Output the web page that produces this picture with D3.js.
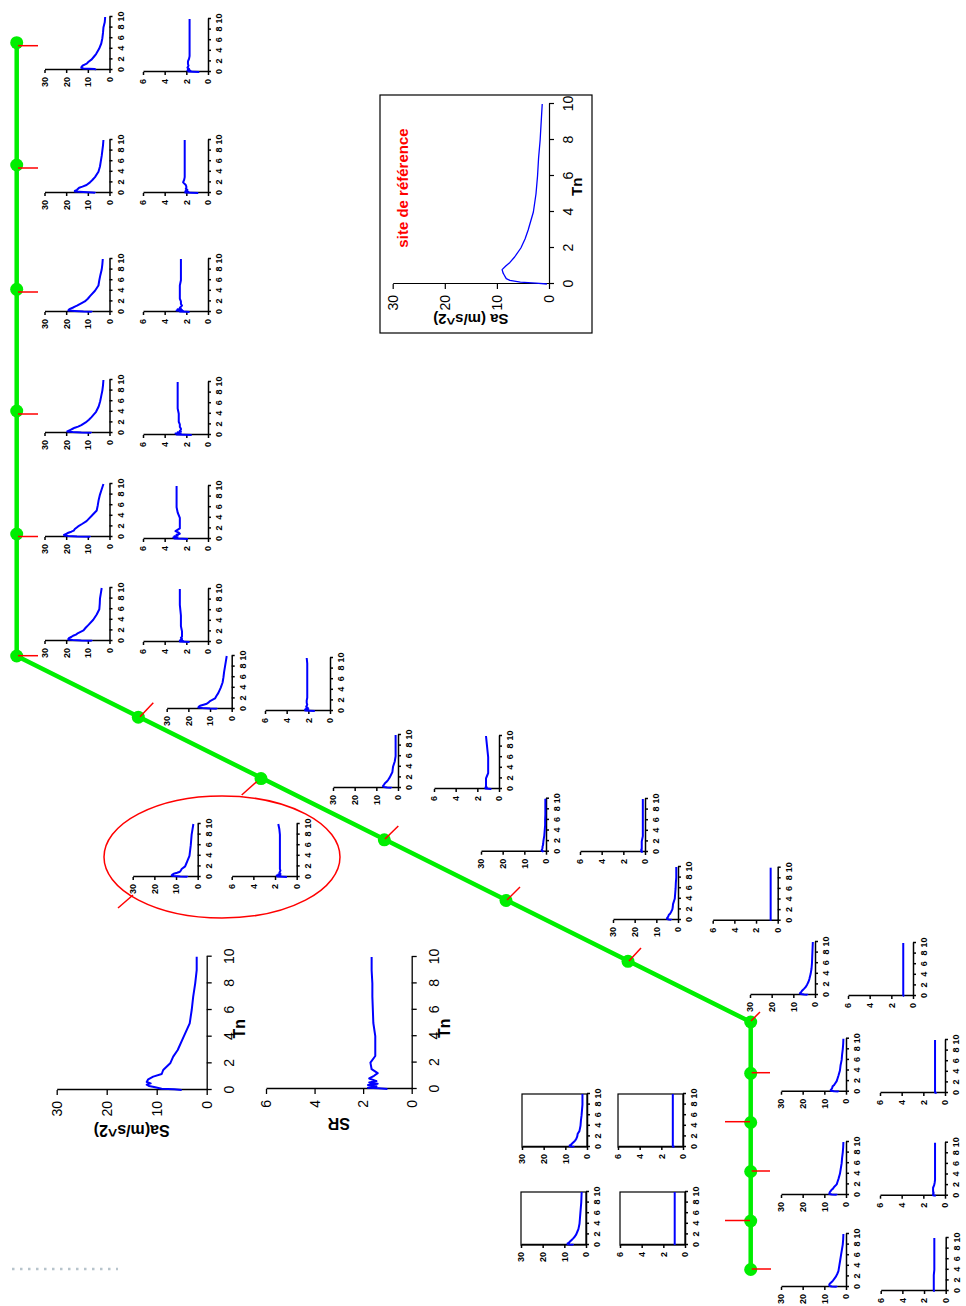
<!DOCTYPE html>
<html><head><meta charset="utf-8">
<script src="https://cdn.jsdelivr.net/npm/d3@7"></script>
<style>body{margin:0;background:#fff} svg{display:block}</style>
</head><body><div id="chart"></div>
<script>
// ---------------- DATA ----------------
const periods = [0,0.05,0.1,0.2,0.3,0.4,0.5,0.6,0.8,1,1.2,1.5,2,2.5,3,4,5,6,7,8,9,10];
const tnTicks = [0,2,4,6,8,10];
const saTicks = [0,10,20,30];
const srTicks = [0,2,4,6];

// reference site
const saRef = [0.4,2.5,5.5,7.5,8.2,8.4,8.6,8.8,9.0,8.3,7.5,6.6,5.4,4.6,4.0,3.0,2.5,2.2,2.0,1.7,1.5,1.3];
// enlarged site (big panels)
const saBig = [5.0,6.5,9.0,10.3,11.5,12.0,11.2,12.0,11.7,10.7,9.0,8.7,7.3,6.7,5.8,4.6,3.4,3.0,2.7,2.3,2.0,2.0];
const srBig = [1.0,1.37,1.8,1.45,1.8,1.4,1.75,1.45,1.75,1.55,1.4,1.65,1.7,1.5,1.5,1.5,1.58,1.6,1.62,1.62,1.65,1.65];

// top row sites
const saA1 = [6.7,6.7,6.5,6.8,12.0,13.0,13.0,12.9,12.5,11.5,10.5,9.8,8.2,7.2,6.2,4.8,3.8,3.3,3.0,2.8,2.2,2.0];
const srA1 = [0.8,1.4,1.8,1.6,1.9,1.7,1.85,1.75,1.9,1.85,1.8,1.85,1.85,1.75,1.7,1.7,1.7,1.7,1.7,1.7,1.7,1.7];
const saA2 = [6.7,6.7,8.0,12.0,16.0,16.0,15.5,15.0,14.5,14.0,12.5,10.6,9.0,7.8,6.7,5.1,4.4,4.0,3.6,3.3,3.0,2.8];
const srA2 = [0.9,1.6,2.1,1.8,2.1,1.9,2.05,1.9,2.05,2.0,2.0,2.05,2.3,2.2,2.15,2.15,2.15,2.15,2.15,2.15,2.15,2.15];
const saA3 = [8.2,8.2,12.0,16.0,19.0,18.8,18.5,18.3,17.0,16.0,15.0,13.7,11.4,10.0,9.0,6.7,5.1,4.7,4.2,3.6,3.3,3.1];
const srA3 = [1.7,2.0,2.6,2.3,2.9,2.4,2.8,2.5,2.6,2.5,2.4,2.5,2.5,2.6,2.6,2.6,2.6,2.5,2.5,2.5,2.5,2.5];
const saA4 = [8.5,8.5,13.0,17.0,19.5,19.0,18.5,18.0,17.0,16.0,14.5,13.0,11.0,9.5,8.3,6.2,5.0,4.3,3.8,3.3,3.0,2.8];
const srA4 = [1.5,2.2,2.9,2.5,3.0,2.6,2.8,2.5,2.6,2.5,2.5,2.6,2.6,2.7,2.7,2.7,2.8,2.8,2.8,2.8,2.8,2.8];
const saA5 = [9.0,9.0,15.0,19.0,20.7,21.0,20.5,20.0,19.0,17.6,16.5,16.0,14.5,12.5,10.6,8.2,5.9,5.4,5.0,4.4,3.6,2.8];
const srA5 = [1.85,2.4,3.1,2.8,3.2,2.9,3.1,2.8,2.9,2.6,2.7,3.0,2.6,2.6,2.6,2.6,2.8,2.9,2.9,2.9,2.9,2.9];
const saA6 = [8.2,8.2,13.0,17.0,19.0,19.0,18.8,18.5,17.5,16.8,15.5,14.5,12.0,11.0,9.8,7.5,5.9,4.7,4.5,4.4,4.0,3.6];
const srA6 = [1.7,2.2,2.6,2.3,2.6,2.4,2.5,2.4,2.5,2.4,2.4,2.4,2.4,2.45,2.5,2.5,2.5,2.55,2.6,2.6,2.6,2.6];
// diagonal sites
const saD1 = [6.9,6.9,10.0,13.5,15.4,15.2,15.0,14.6,13.0,11.5,10.8,10.0,7.7,7.0,6.2,5.1,4.2,3.8,3.5,3.1,2.7,2.3];
const srD1 = [1.4,1.9,2.3,2.0,2.3,2.0,2.2,2.05,2.2,2.15,2.1,2.15,2.15,2.1,2.1,2.1,2.1,2.1,2.1,2.1,2.1,2.15];
const saD2 = [3.1,3.1,5.0,6.5,6.9,6.9,6.7,6.5,6.2,5.8,5.2,4.6,3.8,3.2,2.6,2.3,1.5,1.1,1.1,1.1,1.1,1.1];
const srD2 = [0.7,1.0,1.25,1.1,1.25,1.15,1.2,1.2,1.2,1.2,1.2,1.2,1.2,1.1,1.0,1.0,1.0,1.0,1.05,1.1,1.15,1.2];
const saD3 = [1.2,1.2,1.6,2.0,2.0,1.9,1.8,1.7,1.6,1.6,1.4,1.3,1.2,1.0,0.8,0.6,0.4,0.4,0.3,0.3,0.3,0.3];
const srD3 = [0.2,0.3,0.35,0.3,0.35,0.3,0.35,0.3,0.3,0.3,0.3,0.3,0.3,0.25,0.2,0.2,0.2,0.2,0.2,0.2,0.2,0.2];
const saD4 = [4.8,4.8,8.0,11.0,12.0,11.8,11.5,11.1,9.5,8.2,7.8,7.4,5.8,5.3,4.8,3.8,3.5,3.2,3.0,2.8,2.4,2.0];
const srD4 = [0.9,1.3,1.8,1.5,1.85,1.5,1.7,1.5,1.6,1.55,1.5,1.55,1.55,1.55,1.55,1.55,1.55,1.55,1.55,1.55,1.6,1.7];
const saD5 = [3.1,3.1,4.2,5.0,5.1,5.0,4.8,4.6,4.4,4.2,3.6,3.2,2.6,2.4,2.3,1.5,1.3,1.1,1.0,0.8,0.8,0.8];
const srD5 = [0.65,0.65,0.65,0.65,0.65,0.65,0.65,0.65,0.65,0.65,0.65,0.65,0.65,0.65,0.65,0.65,0.65,0.65,0.65,0.65,0.65,0.65];
const saD6 = [3.5,3.5,5.0,6.5,7.0,6.8,6.5,6.3,6.0,5.5,5.0,4.3,3.6,3.0,2.6,2.0,1.6,1.4,1.3,1.2,1.1,1.0];
const srD6 = [0.8,0.85,0.9,0.9,0.9,0.9,0.9,0.9,0.9,0.9,0.9,0.9,0.9,0.9,0.9,0.9,0.9,0.9,0.9,0.9,0.9,0.9];
// bottom row sites
const saB1 = [3.5,3.5,5.5,7.0,7.1,6.9,6.7,6.5,6.3,6.2,5.6,5.1,4.3,3.9,3.5,2.8,2.5,2.0,1.8,1.5,1.3,1.2];
const srB1 = [0.77,0.85,0.92,0.92,0.92,0.92,0.92,0.92,0.92,0.92,0.92,0.92,0.92,0.92,0.92,0.92,0.92,0.92,0.92,0.92,0.92,0.92];
const saB2 = [4.3,4.3,6.5,7.7,7.7,7.6,7.5,7.4,7.0,6.6,6.0,5.5,4.3,3.9,3.5,2.8,2.4,2.0,1.8,1.5,1.3,1.2];
const srB2 = [0.85,1.0,1.1,1.1,1.1,1.05,1.1,1.05,1.1,1.1,1.1,1.1,1.0,0.95,0.92,0.92,0.92,0.92,0.92,0.92,0.92,0.92];
const saB3 = [4.3,4.3,6.5,7.5,7.7,7.7,7.7,7.5,7.0,6.5,6.0,5.5,4.6,4.0,3.5,3.1,2.7,2.3,1.9,1.5,1.3,1.2];
const srB3 = [1.0,1.1,1.1,1.1,1.1,1.1,1.1,1.1,1.1,1.1,1.1,1.1,1.1,1.1,1.1,1.05,1.05,1.05,1.05,1.05,1.05,1.05];
// boxed sites (lower left)
const saL1 = [6.2,6.2,7.0,8.0,8.0,7.5,7.2,7.0,6.5,6.0,5.5,5.0,4.5,4.3,3.5,3.0,2.8,2.5,2.3,2.1,2.1,2.1];
const srL1 = [0.8,0.85,0.94,0.94,0.94,0.94,0.94,0.94,0.94,0.94,0.94,0.94,0.94,0.94,0.94,0.94,0.94,0.94,0.94,0.94,0.94,0.94];
const saL2 = [6.0,6.0,7.5,8.5,8.5,8.0,7.7,7.5,7.0,6.5,6.0,5.3,4.5,4.0,3.5,3.0,2.8,2.6,2.4,2.2,2.1,2.0];
const srL2 = [0.95,0.95,0.95,0.95,0.95,0.95,0.95,0.95,0.95,0.95,0.95,0.95,0.95,0.95,0.95,0.95,0.95,0.95,0.95,0.95,0.95,0.95];

// ---------------- LAYOUT ----------------
const W = 966, H = 1306;
const FONT = '"Liberation Sans", Arial, Helvetica, sans-serif';
const GREEN = '#00ee00';

// screen positions of the Tn axis (x) and Tn=0 level (y) for each small panel pair
const smallPanels = [
  {sa: saA1, sr: srA1, a: [109.5, 70], b: [208, 72]},
  {sa: saA2, sr: srA2, a: [109.5, 193], b: [208, 193]},
  {sa: saA3, sr: srA3, a: [109.5, 312], b: [208, 312]},
  {sa: saA4, sr: srA4, a: [109.5, 433], b: [208, 435]},
  {sa: saA5, sr: srA5, a: [109.5, 537], b: [208, 539]},
  {sa: saA6, sr: srA6, a: [109.5, 641], b: [208, 642]},
  {sa: saD1, sr: srD1, a: [231.7, 709], b: [330, 711]},
  {sa: saD2, sr: srD2, a: [398, 788], b: [499, 789]},
  {sa: saD3, sr: srD3, a: [546, 851.7], b: [645, 852]},
  {sa: saD4, sr: srD4, a: [197.7, 877], b: [296.7, 877]},
  {sa: saD5, sr: srD5, a: [678, 920], b: [777.7, 920.7]},
  {sa: saD6, sr: srD6, a: [815, 995], b: [913, 996]},
  {sa: saB1, sr: srB1, a: [846, 1091.7], b: [945, 1093]},
  {sa: saB2, sr: srB2, a: [846, 1195], b: [945, 1195.7]},
  {sa: saB3, sr: srB3, a: [846, 1287], b: [945.7, 1291]},
  {sa: saL1, sr: srL1, a: [587, 1147], b: [683, 1147], box: true},
  {sa: saL2, sr: srL2, a: [586, 1245], b: [685, 1245], box: true}
];

const svg = d3.select('#chart').append('svg').attr('width', W).attr('height', H)
  .style('background', '#fff');

// ---- river path (screen coords) ----
const pathPts = [[16.7,42.7],[16.7,656],[750.7,1022],[750.7,1270]];
const dots = [[16.7,42.7],[16.7,165],[16.7,289.3],[16.7,411],[16.7,534],[16.7,656],
  [138.3,717.2],[261,778.6],[384.3,839.8],[506,900.5],[628,961.3],[750.7,1022],
  [750.7,1073.3],[750.7,1122.5],[750.7,1171.5],[750.7,1221],[750.7,1269.5]];
const redTicks = [
  [18,45.7,38,45.7],[18,168,38,168],[18,292,38,292],[18,414,38,414],[18,536.5,38,536.5],[18,655.7,38,655.7],
  [140,716.7,153.3,702.7],[256.7,781.7,241.7,795],[133,895,118,908],[385,839,398.3,826],[507,900,520,887],
  [629,961,641,948],[751,1021,760,1012],
  [751.7,1072.7,770,1072.7],[725,1121.7,750,1121.7],[751.7,1171,770,1171],[725,1220.5,750,1220.5],[751.7,1269,771,1269]
];

svg.append('line').attr('x1',12).attr('x2',118).attr('y1',1269).attr('y2',1269)
  .attr('stroke','#b7c4cc').attr('stroke-width',2.5).attr('stroke-dasharray','2.5,5.5');

svg.append('path').attr('d', d3.line()(pathPts)).attr('fill','none')
  .attr('stroke', GREEN).attr('stroke-width', 4.5).attr('stroke-linejoin','round');
svg.selectAll('circle.site').data(dots).join('circle').attr('class','site')
  .attr('cx', d=>d[0]).attr('cy', d=>d[1]).attr('r', 6.5).attr('fill', GREEN);
svg.selectAll('line.rt').data(redTicks).join('line').attr('class','rt')
  .attr('x1',d=>d[0]).attr('y1',d=>d[1]).attr('x2',d=>d[2]).attr('y2',d=>d[3])
  .attr('stroke','#ff0000').attr('stroke-width',1.5);
svg.append('ellipse').attr('cx',222).attr('cy',857).attr('rx',118).attr('ry',61)
  .attr('fill','none').attr('stroke','#ff0000').attr('stroke-width',1.5);

// reference box
svg.append('rect').attr('x',380).attr('y',95).attr('width',212).attr('height',238)
  .attr('fill','none').attr('stroke','#000').attr('stroke-width',1.2);

// ---- rotated landscape frame for the plots ----
const g = svg.append('g').attr('transform', `translate(0,${H}) rotate(-90)`);
const fmt = d3.format('d');

function panel(vals, sx0, sy0, w, h, maxY, yTicks, o) {
  const u0 = H - sy0, v0 = sx0;
  const x = d3.scaleLinear().domain([0,10]).range([u0, u0 + h]);
  const y = d3.scaleLinear().domain([0,maxY]).range([v0, v0 - w]);
  const p = g.append('g');
  if (o.box) p.append('rect').attr('x',u0).attr('y',v0-w).attr('width',h).attr('height',w)
    .attr('fill','none').attr('stroke','#000').attr('stroke-width',1.2);
  const gx = p.append('g').attr('transform',`translate(0,${v0})`)
    .call(d3.axisBottom(x).tickValues(tnTicks).tickFormat(fmt).tickSize(o.tick).tickSizeOuter(0).tickPadding(o.padX));
  const gy = p.append('g').attr('transform',`translate(${u0},0)`)
    .call(d3.axisLeft(y).tickValues(yTicks).tickFormat(fmt).tickSize(o.tick).tickSizeOuter(0).tickPadding(o.padY));
  [gx, gy].forEach(a => {
    a.attr('font-family', FONT).attr('font-size', o.fs).attr('font-weight', o.fw);
    a.select('.domain').attr('stroke','#000').attr('stroke-width', o.sw);
    a.selectAll('.tick line').attr('stroke','#000').attr('stroke-width', o.sw);
    a.selectAll('.tick text').attr('fill','#000');
  });
  p.append('path').datum(vals)
    .attr('d', d3.line().x((d,i)=>x(periods[i])).y(d=>y(d)))
    .attr('fill','none').attr('stroke','#0000ff').attr('stroke-width', o.lw).attr('stroke-linejoin','round');
  return {x, y, u0, v0};
}

const smallOpt = {tick: 3, padX: 5, padY: 4, fs: 9, fw: 'bold', sw: 1.5, lw: 2};
smallPanels.forEach(sp => {
  panel(sp.sa, sp.a[0], sp.a[1], 65, 53, 30, saTicks, Object.assign({}, smallOpt, {box: sp.box}));
  panel(sp.sr, sp.b[0], sp.b[1], 65, 53, 6, srTicks, Object.assign({}, smallOpt, {box: sp.box}));
});

// big panels
const bigOpt = {tick: 5, padX: 12, padY: 6, fs: 14, fw: 'normal', sw: 1.3, lw: 2};
const bigSa = panel(saBig, 206.7, 1090, 150, 133.3, 30, saTicks, bigOpt);
const bigSr = panel(srBig, 411.7, 1089, 145.7, 132, 6, srTicks, bigOpt);

function label(txt, u, v, rot, size, color) {
  const t = g.append('text').attr('font-family', FONT).attr('font-weight','bold')
    .attr('font-size', size).attr('fill', color || '#000').attr('text-anchor','middle').text(txt);
  if (rot) t.attr('transform', `translate(${u},${v}) rotate(-90)`);
  else t.attr('x', u).attr('y', v);
}
label('Sa(m/s^2)', bigSa.u0 - 35, bigSa.y(15), true, 16);
label('Tn', bigSa.x(4.6), bigSa.v0 + 38, false, 16);
label('SR', bigSr.u0 - 29, bigSr.y(3), true, 16);
label('Tn', bigSr.x(4.6), bigSr.v0 + 38, false, 16);

// reference site panel
const refOpt = {tick: 5, padX: 9, padY: 6, fs: 14, fw: 'normal', sw: 1.2, lw: 1.3};
const ref = panel(saRef, 549, 284, 156.3, 180, 30, saTicks, refOpt);
label('Sa (m/s^2)', ref.u0 - 30, ref.y(15), true, 15);
label('Tn', ref.x(5.4), ref.v0 + 33, false, 15);
label('site de référence', H - 188, 408, false, 15, '#ff0000');
</script>
</body></html>
